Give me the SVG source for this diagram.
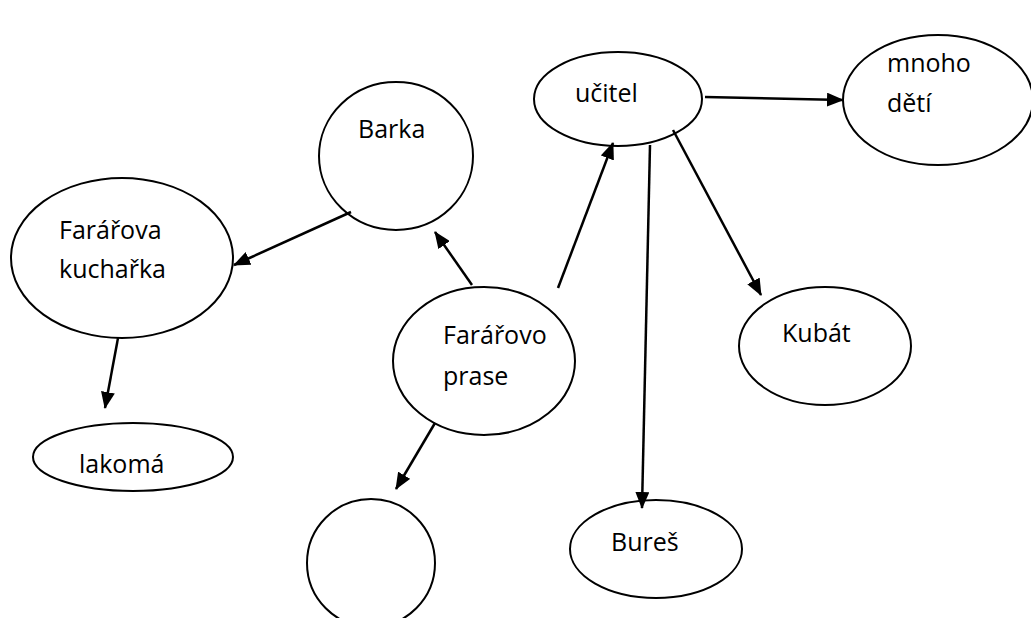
<svg xmlns="http://www.w3.org/2000/svg" width="1031" height="618" viewBox="0 0 1031 618">
<defs>
<style>
.n{fill:#fff;stroke:#000;stroke-width:2}
.t{font-family:"Open Sans","Noto Sans",sans-serif;font-size:25px;fill:#000}
.c line{stroke:#000;stroke-width:2.5}
</style>
<marker id="ah" markerUnits="userSpaceOnUse" markerWidth="17" markerHeight="14" refX="16" refY="7" orient="auto">
<path d="M0,0 L17,7 L0,14 z" fill="#000"/>
</marker>
</defs>
<rect width="1031" height="618" fill="#fff"/>
<g id="ucitel"><ellipse class="n" cx="618" cy="99" rx="84" ry="47"/><text class="t" x="575" y="102">učitel</text></g>
<g id="mnoho"><ellipse class="n" cx="938" cy="100" rx="95" ry="65"/><text class="t" x="887" y="72">mnoho</text><text class="t" x="887" y="112">dětí</text></g>
<g id="barka"><ellipse class="n" cx="396" cy="156" rx="77" ry="74"/><text class="t" x="358" y="138">Barka</text></g>
<g id="kucharka"><ellipse class="n" cx="122" cy="258" rx="111" ry="80"/><text class="t" x="59" y="239">Farářova</text><text class="t" x="59" y="278">kuchařka</text></g>
<g id="lakoma"><ellipse class="n" cx="133" cy="457" rx="100" ry="34"/><text class="t" x="79" y="473">lakomá</text></g>
<g id="prase"><ellipse class="n" cx="484" cy="361" rx="91" ry="74"/><text class="t" x="443" y="344">Farářovo</text><text class="t" x="443" y="385">prase</text></g>
<g id="empty"><ellipse class="n" cx="371" cy="563" rx="64" ry="64"/></g>
<g id="kubat"><ellipse class="n" cx="825" cy="346" rx="86" ry="59"/><text class="t" x="782" y="342">Kubát</text></g>
<g id="bures"><ellipse class="n" cx="656" cy="549" rx="86" ry="49"/><text class="t" x="611" y="551">Bureš</text></g>
<g class="c" id="connectors">
<line x1="705" y1="97" x2="843" y2="100" marker-end="url(#ah)"/>
<line x1="351" y1="212" x2="234" y2="265" marker-end="url(#ah)"/>
<line x1="472" y1="285" x2="435" y2="232" marker-end="url(#ah)"/>
<line x1="558" y1="288" x2="613" y2="143" marker-end="url(#ah)"/>
<line x1="650" y1="145" x2="642" y2="508" marker-end="url(#ah)"/>
<line x1="673" y1="130" x2="761" y2="295" marker-end="url(#ah)"/>
<line x1="118" y1="338" x2="105" y2="408" marker-end="url(#ah)"/>
<line x1="435" y1="423" x2="396" y2="489" marker-end="url(#ah)"/>
</g>
</svg>
